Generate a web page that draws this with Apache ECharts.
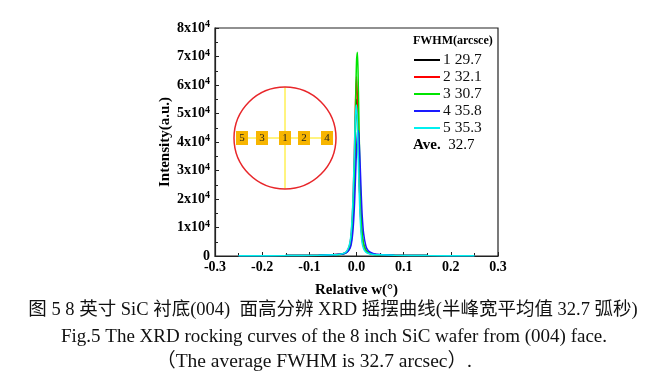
<!DOCTYPE html>
<html><head><meta charset="utf-8">
<script src="https://cdn.jsdelivr.net/npm/echarts@6/dist/echarts.min.js"></script>
<style>html,body{margin:0;padding:0;background:#fff}#c{width:668px;height:382px}</style>
</head><body><div id="c"></div>
<script>
// ---- data ----
const xs = [-0.25,-0.15,-0.08,-0.05,-0.035,-0.025,-0.02,-0.015,-0.012,-0.01,-0.008,-0.006,-0.004,-0.002,0,0.002,0.004,0.006,0.008,0.01,0.012,0.015,0.02,0.025,0.035,0.05,0.08,0.15,0.25];
const s1 = [100,150,250,400,600,1000,1600,3200,5500,8500,14000,22000,33000,47000,55000,50000,38000,26000,17000,10500,6500,3800,1800,1100,650,400,250,150,100];
const s2 = [100,150,250,400,600,1000,1700,3600,6500,10500,17000,27000,40000,55000,63000,55000,40000,26000,16000,9500,5800,3300,1600,1000,600,400,250,150,100];
const s3 = [100,150,250,400,550,900,1400,2600,4200,6500,11000,19000,32000,52000,68000,71500,58000,40000,25000,14500,8500,4500,2100,1200,650,400,250,150,100];
const s4 = [100,150,250,400,600,900,1300,2300,3500,5200,8000,12500,19000,28000,37000,43000,44000,39000,31000,22000,14500,8000,3400,1800,900,500,300,150,100];
const s5 = [100,150,250,400,650,1100,1900,4000,7000,11500,18000,28000,39500,50000,53000,46000,33000,21000,12500,7500,4500,2600,1300,850,550,400,250,150,100];
const seriesNames = ['1 29.7','2 32.1','3 30.7','4 35.8','5 35.3'];
const seriesColors = ['#000000','#ff0000','#00e400','#1a1aff','#00f0f0'];
const yTicks = [0,10000,20000,30000,40000,50000,60000,70000,80000];
const xTicks = [-0.3,-0.2,-0.1,0.0,0.1,0.2,0.3];
const wafer = ['5','3','1','2','4'];

const all = [s1,s2,s3,s4,s5];
const serif = 'Liberation Serif';
const chart = echarts.init(document.getElementById('c'));
const series = all.map((s,i)=>({
  name: seriesNames[i], type:'line', data: xs.map((x,j)=>[x,s[j]]),
  showSymbol:false, smooth:0.3, lineStyle:{width:1.5,color:seriesColors[i]}, itemStyle:{color:seriesColors[i]},
  z: 2+i
}));
// inset wafer map (decoration)
const cx=285, cy=138, r=51;
const boxX=[242,262,285,304,327];
const g = [
  {type:'line',shape:{x1:cx,y1:cy-r,x2:cx,y2:cy+r},style:{stroke:'#ffe800',lineWidth:1},z:10},
  {type:'line',shape:{x1:boxX[0],y1:cy,x2:boxX[4],y2:cy},style:{stroke:'#ffe800',lineWidth:1},z:10},
  {type:'circle',shape:{cx:cx,cy:cy,r:r},style:{fill:'none',stroke:'#e8262a',lineWidth:1.5},z:10}
];
wafer.forEach((t,i)=>{
  g.push({type:'rect',shape:{x:boxX[i]-6,y:cy-7,width:12,height:14},style:{fill:'#f7b500'},z:11});
  g.push({type:'text',x:boxX[i],y:cy,style:{text:t,fill:'#222',font:'11px "'+serif+'"',align:'center',verticalAlign:'middle'},z:12});
});
g.push({type:'text',left:413,top:35,style:{text:'FWHM(arcsce)',fill:'#000',font:'bold 12px "'+serif+'"'},z:12});
g.push({type:'text',left:413,top:138,style:{rich:{b:{font:'bold 15px "'+serif+'"',fill:'#000'},n:{font:'15px "'+serif+'"',fill:'#000'}},text:'{b|Ave.}{n|  32.7}'},z:12});
g.push({type:'text',x:333,y:310,style:{text:'图 5 8 英寸 SiC 衬底(004)  面高分辨 XRD 摇摆曲线(半峰宽平均值 32.7 弧秒)',fill:'#111',font:'18.5px "Liberation Serif","Noto Sans CJK SC"',align:'center',verticalAlign:'middle'},z:12});
g.push({type:'text',x:334,y:337,style:{text:'Fig.5 The XRD rocking curves of the 8 inch SiC wafer from (004) face.',fill:'#111',font:'19px "'+serif+'"',align:'center',verticalAlign:'middle'},z:12});
g.push({type:'text',x:314,y:362,style:{text:'（The average FWHM is 32.7 arcsec）.',fill:'#111',font:'19.5px "Liberation Serif","Noto Sans CJK SC"',align:'center',verticalAlign:'middle'},z:12});

chart.setOption({
  animation:false,
  grid:{left:215,top:28,right:170,bottom:126,show:true,borderColor:'#222',borderWidth:1.2},
  legend:{data:seriesNames,orient:'vertical',left:414,top:52,padding:0,itemWidth:26,itemHeight:2,itemGap:1,icon:'rect',
    textStyle:{fontFamily:serif,fontSize:15.5,lineHeight:14,color:'#111',padding:[0,0,0,-2]}},
  xAxis:{type:'value',min:xTicks[0],max:xTicks[xTicks.length-1],interval:0.1,
    name:'Relative w(°)',nameLocation:'middle',nameGap:27,
    nameTextStyle:{fontFamily:serif,fontWeight:'bold',fontSize:15,color:'#000'},
    axisLine:{onZero:false,lineStyle:{color:'#222',width:1.2}},
    axisTick:{inside:true,length:4,lineStyle:{color:'#222'}},
    minorTick:{show:true,splitNumber:2,length:3,lineStyle:{color:'#222'}},
    splitLine:{show:false},
    axisLabel:{fontFamily:serif,fontWeight:'bold',fontSize:14,color:'#000',margin:4,formatter:v=>v.toFixed(1)}},
  yAxis:{type:'value',min:yTicks[0],max:yTicks[yTicks.length-1],interval:10000,
    name:'Intensity(a.u.)',nameLocation:'middle',nameGap:42,
    nameTextStyle:{fontFamily:serif,fontWeight:'bold',fontSize:15,color:'#000'},
    axisLine:{onZero:false,lineStyle:{color:'#222',width:1.2}},
    axisTick:{inside:true,length:4,lineStyle:{color:'#222'}},
    minorTick:{show:true,splitNumber:2,length:3,lineStyle:{color:'#222'}},
    splitLine:{show:false},
    axisLabel:{color:'#000',margin:5,
      formatter:v=>v===0?'{a|0}':'{a|'+(v/10000)+'x10}{s|4}',
      rich:{a:{fontFamily:serif,fontWeight:'bold',fontSize:14,color:'#000'},
            s:{fontFamily:serif,fontWeight:'bold',fontSize:10,color:'#000',verticalAlign:'top',padding:[0,0,7,0]}}}},
  series:series,
  graphic:g
});
</script></body></html>
